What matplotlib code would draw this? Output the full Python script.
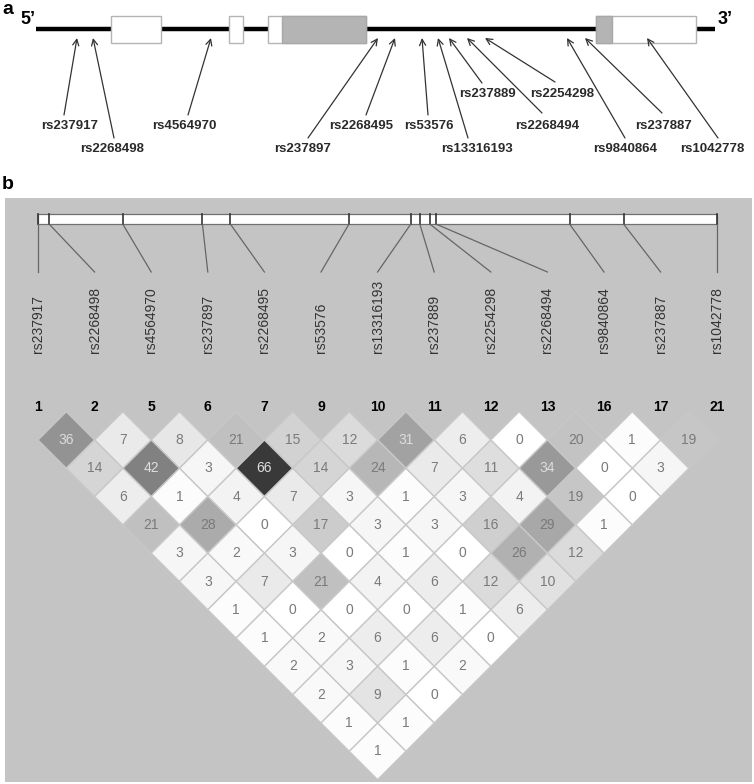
import matplotlib.pyplot as plt
from matplotlib.patches import Polygon, Rectangle
import numpy as np

plt.rcParams['font.family'] = ['Liberation Sans', 'DejaVu Sans']

# SNPs in genomic order (panel b order)
snp_names = ['rs237917', 'rs2268498', 'rs4564970', 'rs237897', 'rs2268495', 'rs53576',
             'rs13316193', 'rs237889', 'rs2254298', 'rs2268494', 'rs9840864',
             'rs237887', 'rs1042778']
snp_ids = [1, 2, 5, 6, 7, 9, 10, 11, 12, 13, 16, 17, 21]
# relative physical position along the region (kb)
snp_pos_kb = [0.0, 0.31, 2.37, 4.60, 5.38, 8.70, 10.43, 10.68, 10.96, 11.13, 14.87, 16.38, 19.0]

# pairwise r2 (x100), listed by diagonal: distance 1, 2, ... 12
ld_rows = [
    [36, 7, 8, 21, 15, 12, 31, 6, 0, 20, 1, 19],
    [14, 42, 3, 66, 14, 24, 7, 11, 34, 0, 3],
    [6, 1, 4, 7, 3, 1, 3, 4, 19, 0],
    [21, 28, 0, 17, 3, 3, 16, 29, 1],
    [3, 2, 3, 0, 1, 0, 26, 12],
    [3, 7, 21, 4, 6, 12, 10],
    [1, 0, 0, 0, 1, 6],
    [1, 2, 6, 6, 0],
    [2, 3, 1, 2],
    [2, 9, 0],
    [1, 1],
    [1],
]

# gene schematic (panel a), schematic units
exon_start = [111, 229, 268, 596]
exon_end = [161, 243, 366, 696]
cds_start = [None, None, 282, 596]
cds_end = [None, None, 366, 612]
gene_start, gene_end = 36, 715
arrow_tip_x = [77, 93, 211, 378, 395, 422, 438, 449, 485, 467, 567, 585, 647]
arrow_tail = [(64, 115), (114, 138), (188, 115), (308, 138), (366, 115), (428, 115),
              (468, 138), (482, 83), (555, 82), (542, 113), (625, 138), (662, 113), (718, 138)]
label_pos = [(70, 126), (112, 149), (184, 126), (303, 149), (361, 126), (429, 126),
             (477, 149), (487, 94), (562, 94), (547, 126), (625, 149), (664, 126), (712, 149)]

W, H = 754, 784
fig = plt.figure(figsize=(W / 100, H / 100), dpi=100)
fig.patch.set_facecolor('white')

# ---- panel a (pixel-like schematic coords) ----
ax = fig.add_axes([0, 0, 1, 1])
ax.set_xlim(0, W)
ax.set_ylim(H, 0)
ax.axis('off')

ax.text(2, 1, 'a', fontsize=14, fontweight='bold', va='top', ha='left')
ax.text(2, 176, 'b', fontsize=14, fontweight='bold', va='top', ha='left')

ax.plot([gene_start, gene_end], [29, 29], color='black', lw=3.2, solid_capstyle='butt', zorder=1)
for s, e, cs, ce in zip(exon_start, exon_end, cds_start, cds_end):
    ax.add_patch(Rectangle((s, 16), e - s, 27, facecolor='white', edgecolor='#b4b4b4', lw=1, zorder=2))
    if cs is not None:
        ax.add_patch(Rectangle((cs, 16), ce - cs, 27, facecolor='#b4b4b4', edgecolor='#a8a8a8', lw=1, zorder=3))
ax.text(35, 19, '5\u2019', fontsize=13, fontweight='bold', ha='right', va='center')
ax.text(718, 19, '3\u2019', fontsize=13, fontweight='bold', ha='left', va='center')

for name, tx, tail, lp in zip(snp_names, arrow_tip_x, arrow_tail, label_pos):
    ax.annotate('', xy=(tx, 38), xytext=tail,
                arrowprops=dict(arrowstyle='->', lw=0.9, color='#333333',
                                shrinkA=0, shrinkB=0, mutation_scale=11))
    ax.text(lp[0], lp[1], name, fontsize=9.5, fontweight='bold', color='#2a2a2a',
            ha='center', va='center')

# ---- panel b (LD plot, units = SNP spacing) ----
u = 56.6            # px per SNP column
x0_px, y0_px = 38, 411.7
left_px, right_px, top_px, bot_px = 5, 752, 198, 782
axb = fig.add_axes([left_px / W, 1 - bot_px / H, (right_px - left_px) / W, (bot_px - top_px) / H])
axb.set_xlim((left_px - x0_px) / u, (right_px - x0_px) / u)
axb.set_ylim((bot_px - y0_px) / u, (top_px - y0_px) / u)
axb.set_facecolor('#c4c4c4')
axb.set_xticks([])
axb.set_yticks([])
for sp in axb.spines.values():
    sp.set_visible(False)

n = len(snp_names)
def py(p):
    return (p - y0_px) / u

# ruler
bar_top, bar_bot = py(214), py(224)
pos = np.array(snp_pos_kb)
pos_x = (pos - pos.min()) / (pos.max() - pos.min()) * (n - 1)
axb.add_patch(Rectangle((0, bar_top), n - 1, bar_bot - bar_top, facecolor='white',
                        edgecolor='#707070', lw=0.9))
for i in range(n):
    axb.plot([pos_x[i], pos_x[i]], [bar_top, bar_bot], color='#333333', lw=1.2)
    axb.plot([pos_x[i], i], [bar_bot, py(272)], color='#666666', lw=0.9)
    axb.text(i, py(353), snp_names[i], rotation=90, ha='center', va='bottom',
             fontsize=10, color='#333333')
    axb.text(i, py(407), str(snp_ids[i]), ha='center', va='center',
             fontsize=10, fontweight='bold', color='black')

# LD diamonds
for k, row in enumerate(ld_rows, start=1):
    for i, v in enumerate(row):
        j = i + k
        cx, cy = (i + j) / 2, k / 2
        g = max(0, 255 - 3.0 * v) / 255
        axb.add_patch(Polygon([(cx, cy - 0.5), (cx + 0.5, cy), (cx, cy + 0.5), (cx - 0.5, cy)],
                              closed=True, facecolor=(g, g, g), edgecolor='#c8c8c8', lw=1))
        tc = '#dddddd' if v >= 30 else '#7a7a7a'
        axb.text(cx, cy, str(v), ha='center', va='center', fontsize=10, color=tc)

fig.savefig('out.png', dpi=100)
